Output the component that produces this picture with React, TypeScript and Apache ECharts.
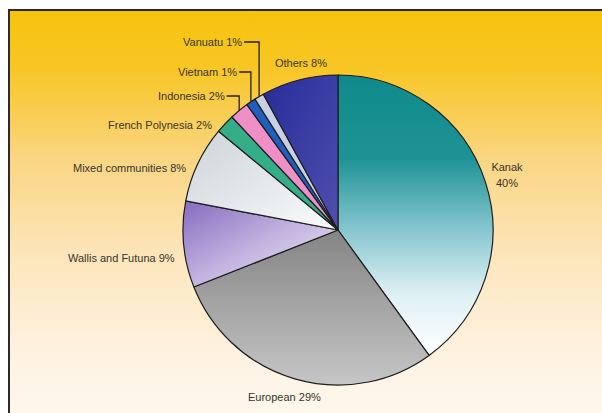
import React, { useEffect, useRef } from "react";
import * as echarts from "echarts";

const categories = [
  "Kanak",
  "European",
  "Wallis and Futuna",
  "Mixed communities",
  "French Polynesia",
  "Indonesia",
  "Vietnam",
  "Vanuatu",
  "Others",
];
const shares = [40, 29, 9, 8, 2, 2, 1, 1, 8];

const CX = 338;
const CY = 230;
const R = 155;

// label anchor layout (pixel), align, and whether an elbow leader is drawn
const labelLayouts = [
  { x: 507, y: 175, align: "center", leader: false },
  { x: 248, y: 397, align: "left", leader: false },
  { x: 68, y: 258, align: "left", leader: false },
  { x: 73, y: 168, align: "left", leader: false },
  { x: 108, y: 125, align: "left", leader: false },
  { x: 158, y: 96, align: "left", leader: true },
  { x: 178, y: 72, align: "left", leader: true },
  { x: 183, y: 42, align: "left", leader: true },
  { x: 275, y: 63, align: "left", leader: false },
];

const lg = (x2: number, y2: number, stops: [number, string][]) =>
  new echarts.graphic.LinearGradient(
    0,
    0,
    x2,
    y2,
    stops.map(([offset, color]) => ({ offset, color }))
  );

const sliceColors = [
  lg(0, 1, [
    [0, "#0f8a8b"],
    [0.3, "#1e9396"],
    [0.55, "#86c6cf"],
    [0.78, "#def0f4"],
    [1, "#ffffff"],
  ]),
  lg(0, 1, [
    [0, "#848484"],
    [1, "#c6c6c6"],
  ]),
  lg(1, 1, [
    [0, "#876bbf"],
    [0.5, "#c2b3e0"],
    [1, "#f6f3fb"],
  ]),
  lg(1, 1, [
    [0, "#cdd3d9"],
    [1, "#fafbfc"],
  ]),
  "#35ae88",
  "#ee8fc6",
  "#1f5fbf",
  "#c9d0e3",
  lg(1, 1, [
    [0, "#272c98"],
    [1, "#4f4fae"],
  ]),
];

export default function App() {
  const ref = useRef<HTMLDivElement>(null);
  useEffect(() => {
    if (!ref.current) return;
    const chart = echarts.init(ref.current, null, { renderer: "svg" });
    const total = shares.reduce((a, b) => a + b, 0);
    const cum: number[] = [];
    let acc = 0;
    shares.forEach((v) => {
      cum.push(acc + v / 2);
      acc += v;
    });
    const edgePoint = (i: number) => {
      const th = (2 * Math.PI * cum[i]) / total;
      return [CX + R * Math.sin(th), CY - R * Math.cos(th)];
    };
    chart.setOption({
      animation: false,
      backgroundColor: "#ffffff",
      graphic: [
        {
          type: "rect",
          z: -10,
          silent: true,
          shape: { x: 9, y: 10, width: 700, height: 500 },
          style: {
            fill: new echarts.graphic.LinearGradient(0, 0, 0, 1, [
              { offset: 0, color: "#f7c30d" },
              { offset: 0.12, color: "#f8c626" },
              { offset: 0.3, color: "#fad683" },
              { offset: 0.5, color: "#fce6bd" },
              { offset: 0.72, color: "#fef4e6" },
              { offset: 1, color: "#fffdf9" },
            ]),
            stroke: "#2b2b2b",
            lineWidth: 2,
          },
        },
      ],
      series: [
        {
          type: "pie",
          center: [CX, CY],
          radius: R,
          startAngle: 90,
          clockwise: true,
          avoidLabelOverlap: false,
          itemStyle: { borderColor: "#1e1e1e", borderWidth: 1.2 },
          label: {
            show: true,
            position: "outside",
            fontFamily: "Liberation Sans, Arial, sans-serif",
            fontSize: 11,
            color: "#36352c",
            lineHeight: 16,
            formatter: (p: any) =>
              p.dataIndex === 0
                ? `${p.name}\n${p.value}%`
                : `${p.name} ${p.value}%`,
          },
          labelLine: {
            show: true,
            lineStyle: { color: "#222", width: 1.3 },
          },
          emphasis: { disabled: true },
          labelLayout: (params: any) => {
            const i = params.dataIndex;
            const L = labelLayouts[i];
            const out: any = {
              x: L.x,
              y: L.y,
              align: L.align,
              verticalAlign: "middle",
              hideOverlap: false,
            };
            if (L.leader) {
              const [ex, ey] = edgePoint(i);
              const w = params.labelRect.width;
              out.labelLinePoints = [
                [L.x + w + 2, L.y],
                [ex, L.y],
                [ex, ey],
              ];
            }
            return out;
          },
          data: categories.map((name, i) => ({
            name,
            value: shares[i],
            itemStyle: { color: sliceColors[i] },
            labelLine: { show: labelLayouts[i].leader },
          })),
        },
      ],
    });
    return () => chart.dispose();
  }, []);
  return (
    <div
      ref={ref}
      style={{ position: "fixed", left: 0, top: 0, width: 602, height: 413 }}
    />
  );
}
